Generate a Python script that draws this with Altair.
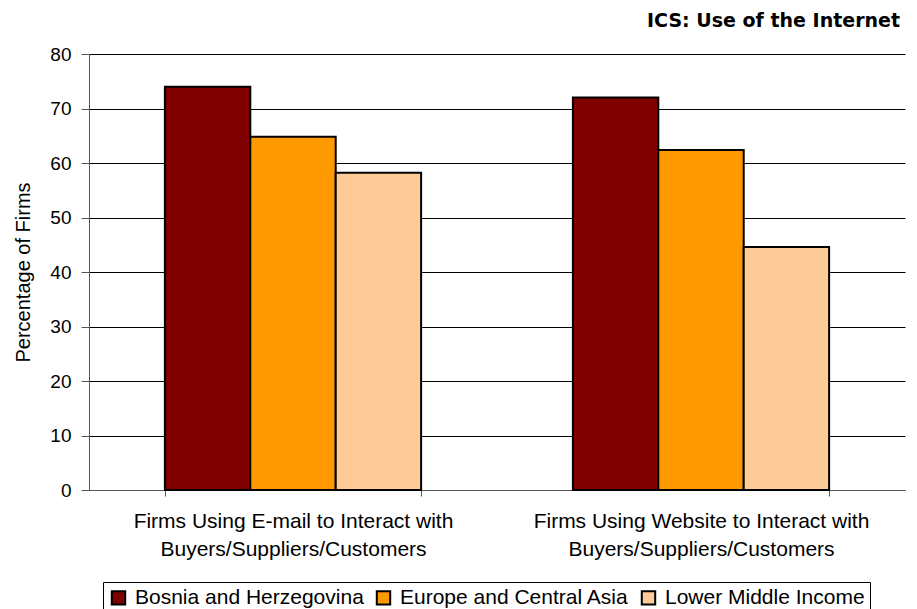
import altair as alt
import pandas as pd

categories = [
    "Firms Using E-mail to Interact with|Buyers/Suppliers/Customers",
    "Firms Using Website to Interact with|Buyers/Suppliers/Customers",
]
series = ["Bosnia and Herzegovina", "Europe and Central Asia", "Lower Middle Income"]
bosnia = [74.0, 72.0]
eca = [64.8, 62.4]
lmi = [58.2, 44.6]
colors = ["#800000", "#FF9900", "#FFCC99"]
y_ticks = [0, 10, 20, 30, 40, 50, 60, 70, 80]

rows = []
for s, vals in zip(series, [bosnia, eca, lmi]):
    for c, v in zip(categories, vals):
        rows.append({"category": c, "series": s, "value": v})
df = pd.DataFrame(rows)

FONT = "Liberation Sans"

chart = alt.Chart(df).mark_bar(stroke="black", strokeWidth=2).encode(
    x=alt.X("category:N", sort=categories,
            scale=alt.Scale(paddingInner=0.372, paddingOuter=0.186),
            axis=alt.Axis(title=None, labelAngle=0,
                          labelExpr="split(datum.label, '|')",
                          labelFont=FONT, labelFontSize=21, labelColor="black",
                          labelLineHeight=28, labelPadding=14, labelLimit=500,
                          tickBand="extent", tickSize=6, tickColor="#555",
                          domainColor="#555", grid=False)),
    xOffset=alt.XOffset("series:N", sort=series,
                        scale=alt.Scale(paddingInner=0, paddingOuter=0)),
    y=alt.Y("value:Q",
            scale=alt.Scale(domain=[0, 80], nice=False),
            axis=alt.Axis(title="Percentage of Firms", values=y_ticks,
                          titleFont=FONT, titleFontSize=20, titleFontWeight="normal",
                          titleColor="black", titlePadding=16,
                          labelFont=FONT, labelFontSize=19, labelColor="black",
                          labelPadding=10, tickSize=8, tickColor="#555",
                          domainColor="#555", gridColor="black", gridWidth=1)),
    color=alt.Color("series:N", sort=series,
                    scale=alt.Scale(domain=series, range=colors),
                    legend=alt.Legend(title=None, orient="none", direction="horizontal",
                                      legendX=14, legendY=528,
                                      symbolType="square", symbolSize=180,
                                      symbolStrokeColor="black", symbolStrokeWidth=2,
                                      labelFont=FONT, labelFontSize=21, labelColor="black",
                                      labelOffset=6, columnPadding=8,
                                      strokeColor="black", padding=5,
                                      labelLimit=400)),
).properties(
    width=816, height=436,
    title=alt.TitleParams("ICS: Use of the Internet", anchor="end", font="DejaVu Sans",
                          fontSize=19, fontWeight="bold", color="black", offset=14, dx=-5),
    autosize=alt.AutoSizeParams(type="none"),
    padding={"left": 81, "top": 46, "right": 4, "bottom": 119},
).configure_view(stroke=None)

chart.save("out.html", embed_options={"renderer": "svg", "actions": False})
